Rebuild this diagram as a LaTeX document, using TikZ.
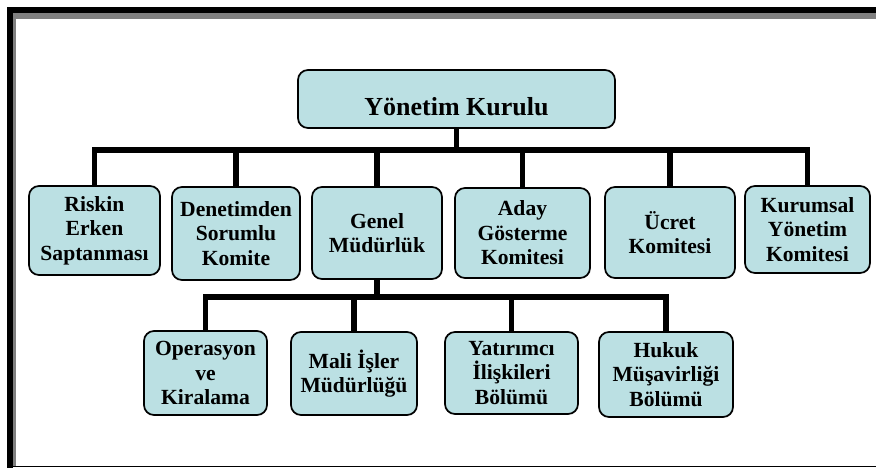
\documentclass[tikz,border=0pt]{standalone}
\usepackage{fontspec}
\setmainfont{Liberation Serif}
\definecolor{boxcyan}{RGB}{187,224,227}
\definecolor{framegray}{RGB}{128,128,128}

\begin{document}
\begin{tikzpicture}[x=0.75pt,y=0.75pt,yscale=-1,xscale=1,
    unit/.style={draw=black, line width=1.3pt, fill=boxcyan, rounded corners=7.5pt, align=center, inner sep=1pt, font=\fontsize{16.2}{18.3}\selectfont\bfseries},
    link/.style={line width=4pt}]
    \useasboundingbox (0,0) rectangle (876,468);
    
    %Shape: Frame
    \fill[black] (7,7) rectangle (876,13.3) ;
    \fill[framegray] (13.3,13.3) rectangle (876,18.5) ;
    \fill[black] (7,7) rectangle (13.3,468) ;
    \fill[framegray] (13.3,13.3) rectangle (16,466) ;
    \fill[black] (13.3,465.8) rectangle (876,467) ;
    
    %Top box
    \node[unit, inner sep=0pt, minimum width=237.75pt, text height=33.75pt, text depth=9.75pt, font=\fontsize{19.5}{22}\selectfont\bfseries] (yk) at (456.5,99) {Yönetim Kurulu};
    
    %Committees
    \node[unit, minimum width=98.25pt, minimum height=66.75pt] (riskin) at (94.5,230.5) {Riskin\\Erken\\Saptanması};
    \node[unit, minimum width=96pt, minimum height=69.75pt] (denetim) at (236,233.5) {Denetimden\\Sorumlu\\Komite};
    \node[unit, minimum width=97.5pt, minimum height=69pt] (genel) at (377,233) {Genel\\Müdürlük};
    \node[unit, minimum width=101.25pt, minimum height=67.5pt] (aday) at (522.5,233) {Aday\\Gösterme\\Komitesi};
    \node[unit, minimum width=97.5pt, minimum height=68.25pt] (ucret) at (670,232.5) {Ücret\\Komitesi};
    \node[unit, minimum width=93.75pt, minimum height=65.25pt] (kurumsal) at (807.5,229.5) {Kurumsal\\Yönetim\\Komitesi};
    
    %Departments
    \node[unit, minimum width=92.25pt, minimum height=63pt] (operasyon) at (205.5,373) {Operasyon\\ve\\Kiralama};
    \node[unit, minimum width=94.5pt, minimum height=62.25pt] (mali) at (354,373.5) {Mali İşler\\Müdürlüğü};
    \node[unit, minimum width=99.75pt, minimum height=61.5pt] (yatirim) at (511.5,373) {Yatırımcı\\İlişkileri\\Bölümü};
    \node[unit, minimum width=100.5pt, minimum height=63.75pt] (hukuk) at (666,374.5) {Hukuk\\Müşavirliği\\Bölümü};
    
    %Connectors
    \coordinate (bus1) at (456.5,150) ;
    \coordinate (bus2) at (377,297) ;
    \draw[link] (yk.south) -- (bus1) ;
    \foreach \n in {riskin,denetim,genel,aday,ucret,kurumsal}
        \draw[link] (\n.north) |- (bus1) ;
    \draw[link] (genel.south) -- (bus2) ;
    \foreach \n in {operasyon,mali,yatirim,hukuk}
        \draw[link] (\n.north) |- (bus2) ;
    
\end{tikzpicture}
\end{document}
